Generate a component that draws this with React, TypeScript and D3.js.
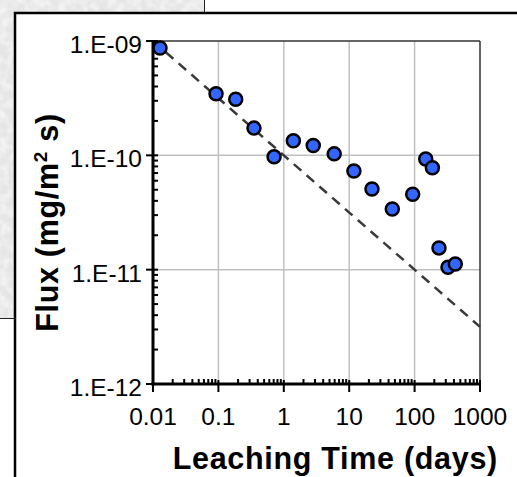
import React from "react";
import * as d3 from "d3";

const timeDays = [0.0128, 0.092, 0.184, 0.35, 0.71, 1.4, 2.82, 5.9, 11.8, 22.3, 45.6, 93.5, 148, 187, 236, 324, 419];
const fluxValues = [8.7e-10, 3.46e-10, 3.09e-10, 1.73e-10, 9.7e-11, 1.34e-10, 1.22e-10, 1.03e-10, 7.3e-11, 5.07e-11, 3.39e-11, 4.56e-11, 9.3e-11, 7.8e-11, 1.55e-11, 1.05e-11, 1.12e-11];
const trendTime = [0.01, 1000];
const trendFlux = [1e-9, 3.162e-12];
const xTicks = [0.01, 0.1, 1, 10, 100, 1000];
const xTickLabels = ["0.01", "0.1", "1", "10", "100", "1000"];
const yTicks = [1e-9, 1e-10, 1e-11, 1e-12];
const yTickLabels = ["1.E-09", "1.E-10", "1.E-11", "1.E-12"];

const W = 517, H = 477;
const L = 153, R = 480, T = 41, B = 384;

export default function App() {
  const x = d3.scaleLog().domain([0.01, 1000]).range([L, R]);
  const y = d3.scaleLog().domain([1e-12, 1e-9]).range([B, T]);

  const xMinor: number[] = [];
  for (let e = -2; e < 3; e++) for (let m = 2; m <= 9; m++) xMinor.push(m * Math.pow(10, e));
  const yMinor: number[] = [];
  for (let e = -12; e < -9; e++) for (let m = 2; m <= 9; m++) yMinor.push(m * Math.pow(10, e));

  const line = d3.line<number>().x((_, i) => x(trendTime[i])).y((d) => y(d));
  const font = "Arial, 'Liberation Sans', sans-serif";

  return (
    <svg width={W} height={H} style={{ position: "absolute", left: 0, top: 0 }}>
      <defs>
        <filter id="tex" x="0" y="0" width="100%" height="100%">
          <feTurbulence type="fractalNoise" baseFrequency="0.12" numOctaves="2" seed="3" result="n" />
          <feColorMatrix in="n" type="matrix" values="0 0 0 0 1  0 0 0 0 1  0 0 0 0 1  0 0 0 1.4 -0.55" result="w" />
          <feComposite in="w" in2="SourceGraphic" operator="over" />
        </filter>
      </defs>
      <rect x={0} y={0} width={W} height={H} fill="#fff" />
      <rect x={0} y={0} width={204.5} height={318.5} fill="#e6e6e6" filter="url(#tex)" />
      <line x1={204.5} y1={0} x2={204.5} y2={318.5} stroke="#222" strokeWidth={1} />
      <line x1={0} y1={318.5} x2={204.5} y2={318.5} stroke="#222" strokeWidth={1} />
      <rect x={15} y={13} width={W} height={H} fill="#fff" stroke="#000" strokeWidth={2.5} />

      {/* grid */}
      {xTicks.slice(1, -1).map((t) => (
        <line key={"gx" + t} x1={x(t)} x2={x(t)} y1={T} y2={B} stroke="#c0c0c0" strokeWidth={1.5} />
      ))}
      {yTicks.slice(1, -1).map((t) => (
        <line key={"gy" + t} x1={L} x2={R} y1={y(t)} y2={y(t)} stroke="#c0c0c0" strokeWidth={1.5} />
      ))}

      {/* frame */}
      <line x1={L} x2={R} y1={T} y2={T} stroke="#333" strokeWidth={1.5} />
      <line x1={R} x2={R} y1={T} y2={B} stroke="#333" strokeWidth={1.5} />

      {/* trend */}
      <path d={line(trendFlux) || ""} fill="none" stroke="#3a3a3a" strokeWidth={2.5} strokeDasharray="10,7" />

      {/* axes */}
      {xMinor.map((t, i) => (
        <line key={"xm" + i} x1={x(t)} x2={x(t)} y1={B} y2={B - 5} stroke="#000" strokeWidth={2} />
      ))}
      {yMinor.map((t, i) => (
        <line key={"ym" + i} x1={L} x2={L + 5} y1={y(t)} y2={y(t)} stroke="#000" strokeWidth={2} />
      ))}
      {xTicks.map((t) => (
        <line key={"xM" + t} x1={x(t)} x2={x(t)} y1={B - 4} y2={B + 8} stroke="#000" strokeWidth={2} />
      ))}
      {yTicks.map((t) => (
        <line key={"yM" + t} x1={L - 7} x2={L + 5} y1={y(t)} y2={y(t)} stroke="#000" strokeWidth={2} />
      ))}
      <line x1={L} x2={L} y1={T - 1} y2={B + 1.5} stroke="#000" strokeWidth={3} />
      <line x1={L - 1.5} x2={R + 1} y1={B} y2={B} stroke="#000" strokeWidth={3} />

      {/* points */}
      {timeDays.map((t, i) => (
        <circle key={"p" + i} cx={x(t)} cy={y(fluxValues[i])} r={6.5} fill="#3366ff" stroke="#000" strokeWidth={2.5} />
      ))}

      {/* tick labels */}
      {xTicks.map((t, i) => (
        <text key={"xl" + t} x={x(t)} y={425} textAnchor="middle" fontFamily={font} fontSize={24.5} fill="#000">
          {xTickLabels[i]}
        </text>
      ))}
      {yTicks.map((t, i) => (
        <text key={"yl" + t} x={142} y={y(t) + 12} textAnchor="end" fontFamily={font} fontSize={24.5} fill="#000">
          {yTickLabels[i]}
        </text>
      ))}

      {/* titles */}
      <text x={335.3} y={469} textAnchor="middle" fontFamily={font} fontSize={30.5} letterSpacing={0.7} fontWeight="bold" fill="#000">
        Leaching Time (days)
      </text>
      <text transform="translate(58,222.5) rotate(-90)" textAnchor="middle" fontFamily={font} fontSize={30.5} letterSpacing={0.7} fontWeight="bold" fill="#000">
        Flux (mg/m<tspan fontSize={19} dy={-11}>2</tspan><tspan dy={11}> s)</tspan>
      </text>
    </svg>
  );
}
